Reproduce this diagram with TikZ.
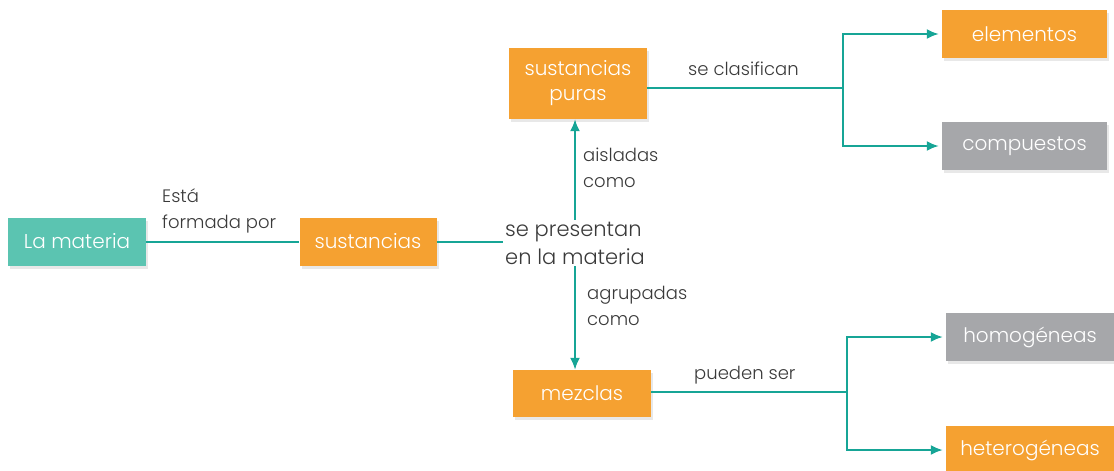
\documentclass[tikz,border=0pt]{standalone}
\usepackage{fontspec}
\setmainfont{Poppins}[UprightFont=* Light]
\usetikzlibrary{arrows.meta,shadows}
\definecolor{verde}{HTML}{5BC4B1}
\definecolor{naranja}{HTML}{F5A131}
\definecolor{gris}{HTML}{A6A7AA}
\definecolor{linea}{HTML}{16A596}
\definecolor{texto}{HTML}{3A3A3A}
\begin{document}
\begin{tikzpicture}[x=1pt,y=-1pt,
	caja/.style={minimum height=48pt, inner sep=0pt, text=white, align=center,
		font=\fontsize{20}{25}\selectfont,
		drop shadow={opacity=0.18, shadow xshift=2pt, shadow yshift=-3pt}},
	enlace/.style={draw=linea, line width=2pt},
	flecha/.style={enlace, -{Latex[length=12pt,width=10pt]}},
	etiqueta/.style={inner sep=0pt, text=texto, align=left, anchor=north west,
		font=\fontsize{18}{26}\selectfont}]
	\useasboundingbox (0,0) rectangle (1114,471);
	\node[caja,fill=verde,minimum width=138pt] (materia) at (77,241.5) {La materia};
	\node[caja,fill=naranja,minimum width=137pt] (sustancias) at (368,241.5) {sustancias};
	\node[caja,fill=naranja,minimum width=138pt,minimum height=71pt] (puras) at (578,83.5) {sustancias\\puras};
	\node[caja,fill=naranja,minimum width=138pt,minimum height=47pt] (mezclas) at (582,393.5) {mezclas};
	\node[caja,fill=naranja,minimum width=165pt] (elementos) at (1024.5,34) {elementos};
	\node[caja,fill=gris,minimum width=165pt] (compuestos) at (1024.5,146) {compuestos};
	\node[caja,fill=gris,minimum width=168pt] (homogeneas) at (1030,337) {homogéneas};
	\node[caja,fill=naranja,minimum width=168pt] (heterogeneas) at (1030,450) {heterogéneas};
	\node[inner sep=2pt, text=texto, align=left, font=\fontsize{21}{28}\selectfont] (presentan) at (575,243) {se presentan\\en la materia};
	\coordinate (rama1) at (843,88);
	\coordinate (rama2) at (847,392);
	\draw[enlace] (materia) -- (sustancias);
	\draw[enlace] (sustancias) -- (sustancias -| presentan.west);
	\draw[flecha] (presentan.north) -- (presentan.north |- puras.south);
	\draw[flecha] (presentan.south) -- (presentan.south |- mezclas.north);
	\draw[enlace] (puras.east |- rama1) -- (rama1);
	\draw[flecha,shorten >=3pt] (rama1) |- (elementos.west);
	\draw[flecha,shorten >=3pt] (rama1) |- (compuestos.west);
	\draw[enlace] (mezclas.east |- rama2) -- (rama2);
	\draw[flecha,shorten >=3pt] (rama2) |- (homogeneas.west);
	\draw[flecha,shorten >=3pt] (rama2) |- (heterogeneas.west);
	\node[etiqueta] (formada) at (162,188) {Está\\formada por};
	\node[etiqueta] (aisladas) at (583,148) {aisladas\\como};
	\node[etiqueta] (agrupadas) at (587,286) {agrupadas\\como};
	\node[etiqueta] (clasifican) at (688,62) {se clasifican};
	\node[etiqueta] (pueden) at (694,366) {pueden ser};
\end{tikzpicture}
\end{document}
